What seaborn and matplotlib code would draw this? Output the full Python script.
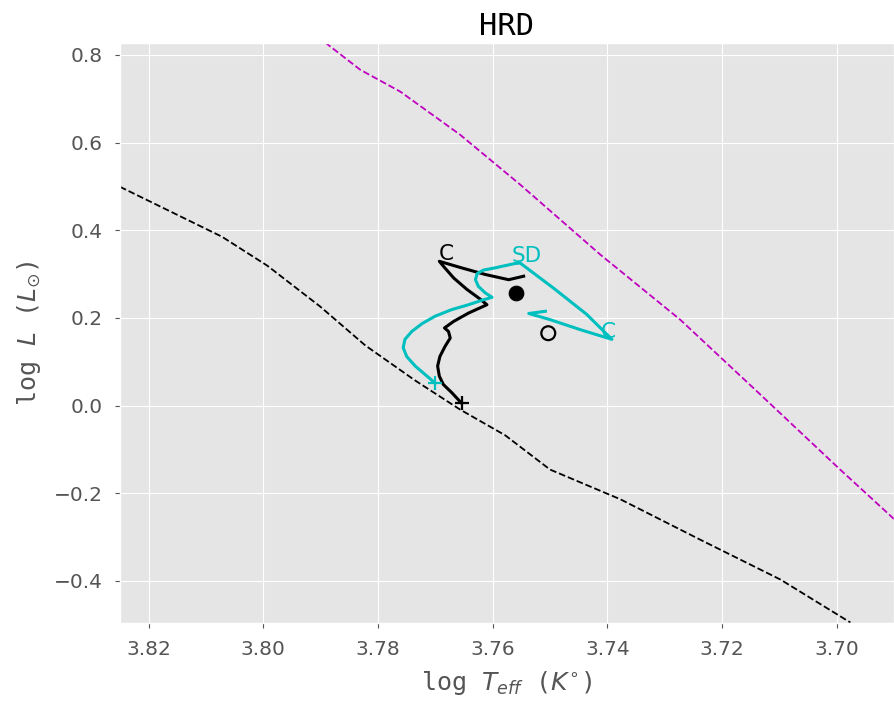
import matplotlib
matplotlib.use("Agg")
import matplotlib.pyplot as plt
import pandas as pd
import seaborn as sns

# ZAMS line (black dashed)
zams_logt = [3.825, 3.8072, 3.7993, 3.7901, 3.7822, 3.7735, 3.7657, 3.7578, 3.7500,
             3.7377, 3.7238, 3.7098, 3.6976]
zams_logl = [0.499, 0.385, 0.319, 0.226, 0.137, 0.057, -0.009, -0.068, -0.146,
             -0.214, -0.306, -0.397, -0.495]

# upper reference line (magenta dashed)
ref_logt = [3.7892, 3.7831, 3.7761, 3.7657, 3.7552, 3.7412, 3.7273, 3.7133, 3.6994, 3.6899]
ref_logl = [0.828, 0.766, 0.716, 0.618, 0.504, 0.344, 0.196, 0.025, -0.146, -0.260]

# black track
trk1_logt = [3.7654, 3.7671, 3.7686, 3.7693, 3.7696, 3.7692, 3.7683, 3.7674, 3.7677,
             3.7684, 3.7668, 3.7642, 3.7610, 3.7622, 3.7645, 3.7668, 3.7686, 3.7693,
             3.7654, 3.7613, 3.7572, 3.7546]
trk1_logl = [0.005, 0.029, 0.048, 0.067, 0.090, 0.112, 0.135, 0.154, 0.169,
             0.177, 0.192, 0.211, 0.230, 0.243, 0.265, 0.291, 0.318, 0.329,
             0.314, 0.299, 0.287, 0.295]

# cyan track
trk2_logt = [3.7701, 3.7718, 3.7735, 3.7750, 3.7756, 3.7753, 3.7741, 3.7723, 3.7700,
             3.7671, 3.7642, 3.7619, 3.7601, 3.7613, 3.7625, 3.7630, 3.7627, 3.7616,
             3.7596, 3.7561, 3.7552, 3.7494, 3.7436, 3.7392, 3.7447, 3.7500, 3.7537,
             3.7508]
trk2_logl = [0.052, 0.071, 0.090, 0.112, 0.132, 0.151, 0.169, 0.187, 0.204,
             0.219, 0.230, 0.240, 0.247, 0.257, 0.272, 0.287, 0.301, 0.309,
             0.314, 0.324, 0.325, 0.268, 0.208, 0.151, 0.173, 0.196, 0.210,
             0.215]

# observed stars
star_filled = (3.7559, 0.256)
star_open = (3.7503, 0.165)

plt.style.use("ggplot")
fig = plt.figure(figsize=(8.94, 7.06), dpi=100)
ax = fig.add_axes([0.1342, 0.1176, 0.8658, 0.8215])

sns.lineplot(x=zams_logt, y=zams_logl, sort=False, estimator=None, color="k",
             linestyle="--", linewidth=1.3, ax=ax)
sns.lineplot(x=ref_logt, y=ref_logl, sort=False, estimator=None, color="m",
             linestyle="--", linewidth=1.3, ax=ax)
sns.lineplot(x=trk1_logt, y=trk1_logl, sort=False, estimator=None, color="k",
             linewidth=2.2, ax=ax)
sns.lineplot(x=trk2_logt, y=trk2_logl, sort=False, estimator=None, color="c",
             linewidth=2.2, ax=ax)

# start markers
ax.plot(trk1_logt[0], trk1_logl[0], "+", color="k", markersize=10, mew=1.6)
ax.plot(trk2_logt[0], trk2_logl[0], "+", color="c", markersize=10, mew=1.6)

sns.scatterplot(x=[star_filled[0]], y=[star_filled[1]], color="k", s=110,
                edgecolor="k", ax=ax)
sns.scatterplot(x=[star_open[0]], y=[star_open[1]], facecolor="none", s=100,
                edgecolor="k", linewidth=1.6, ax=ax)

ax.text(trk1_logt[17] - 0.0012, trk1_logl[17] - 0.006, "C", color="k", fontsize=15.5,
        ha="center", va="bottom")
ax.text(trk2_logt[20] - 0.0012, trk2_logl[20] - 0.006, "SD", color="c", fontsize=15.5,
        ha="center", va="bottom")
ax.text(trk2_logt[23] + 0.0007, trk2_logl[23] - 0.005, "C", color="c", fontsize=15.5,
        ha="center", va="bottom")

ax.set_xlim(3.825, 3.69)
ax.set_ylim(-0.496, 0.827)
ax.set_xticks([3.82, 3.80, 3.78, 3.76, 3.74, 3.72, 3.70])
ax.tick_params(labelsize=14.5, pad=9)
ax.set_title("HRD", fontsize=22, family="DejaVu Sans Mono", color="black")
ax.set_xlabel(r"log $T_{eff}$ ($K^{\circ}$)", fontsize=18, family="DejaVu Sans Mono",
              labelpad=7)
ax.set_ylabel(r"log $L$ ($L_{\odot}$)", fontsize=18, family="DejaVu Sans Mono",
              labelpad=8)

fig.savefig("out.png", dpi=100)
